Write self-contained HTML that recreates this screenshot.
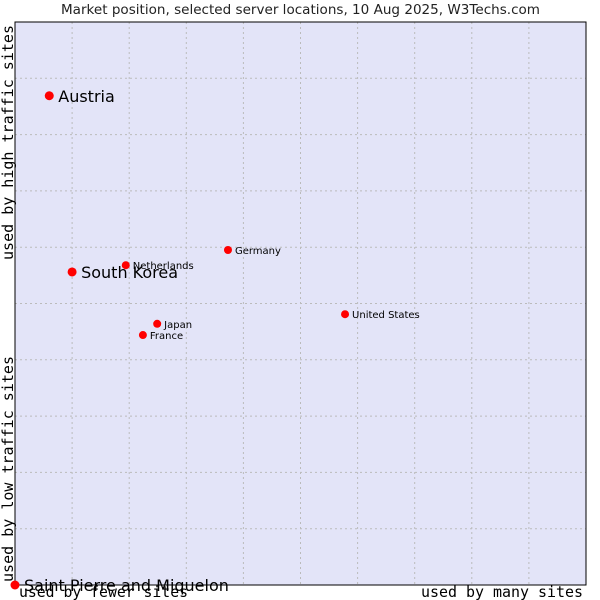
<!DOCTYPE html>
<html><head><meta charset="utf-8"><style>
body{margin:0;background:#fff}
svg{display:block}
</style></head><body>
<svg id="c" width="600" height="600" xmlns="http://www.w3.org/2000/svg">
<text x="61" y="14" textLength="479" lengthAdjust="spacingAndGlyphs" font-family="DejaVu Sans, sans-serif" font-size="13" fill="#222">Market position, selected server locations, 10 Aug 2025, W3Techs.com</text>
<rect x="15" y="22" width="571" height="563" fill="#e3e4f8"/>
<g id="grid"></g>
<rect x="15" y="22" width="571" height="563" fill="none" stroke="#000" stroke-width="1"/>
<text transform="translate(13,260) rotate(-90)" textLength="235" lengthAdjust="spacingAndGlyphs" font-family="DejaVu Sans Mono, Liberation Mono, monospace" font-size="15" fill="#000">used by high traffic sites</text>
<text transform="translate(13,582) rotate(-90)" textLength="226" lengthAdjust="spacingAndGlyphs" font-family="DejaVu Sans Mono, Liberation Mono, monospace" font-size="15" fill="#000">used by low traffic sites</text>
<text x="19" y="597" textLength="169" lengthAdjust="spacingAndGlyphs" font-family="DejaVu Sans Mono, Liberation Mono, monospace" font-size="15" fill="#000">used by fewer sites</text>
<text x="421" y="597" textLength="162" lengthAdjust="spacingAndGlyphs" font-family="DejaVu Sans Mono, Liberation Mono, monospace" font-size="15" fill="#000">used by many sites</text>
<g id="pts"></g>
</svg>
<script>
const countries=["Austria","South Korea","Netherlands","Germany","United States","Japan","France","Saint Pierre and Miquelon"];
const xVals=[6,10,19.4,37.3,57.8,24.9,22.4,0];
const yVals=[86.9,55.6,56.8,59.5,48.1,46.4,44.4,0];
const big=[true,true,false,false,false,false,false,true];
const L=15,R=586,T=22,B=585;
const sx=v=>L+v/100*(R-L), sy=v=>B-v/100*(B-T);
const NS="http://www.w3.org/2000/svg";
const g=document.getElementById('grid');
for(let i=1;i<10;i++){
 const a=document.createElementNS(NS,'line');
 a.setAttribute('x1',sx(i*10));a.setAttribute('x2',sx(i*10));a.setAttribute('y1',T);a.setAttribute('y2',B);
 a.setAttribute('stroke','#bbb');a.setAttribute('stroke-dasharray','2,3');
 
 
 g.appendChild(a);
 const b=document.createElementNS(NS,'line');
 b.setAttribute('y1',sy(i*10));b.setAttribute('y2',sy(i*10));b.setAttribute('x1',L);b.setAttribute('x2',R);
 b.setAttribute('stroke','#bbb');b.setAttribute('stroke-dasharray','2,3');
 
 
 g.appendChild(b);
}
const p=document.getElementById('pts');
countries.forEach((c,i)=>{
 const x=sx(xVals[i]),y=sy(yVals[i]);
 const d=document.createElementNS(NS,'circle');
 d.setAttribute('cx',x);d.setAttribute('cy',y);d.setAttribute('r',big[i]?4.5:4);d.setAttribute('fill','#f00');
 
 
 p.appendChild(d);
 const t=document.createElementNS(NS,'text');
 t.setAttribute('x',x+(big[i]?9:7));t.setAttribute('y',y+(big[i]?6:4));
 t.setAttribute('font-family','DejaVu Sans, sans-serif');t.setAttribute('font-size',big[i]?16:10);t.setAttribute('fill','#000');
 t.textContent=c;
 
 
 p.appendChild(t);
});
</script>
</body></html>
